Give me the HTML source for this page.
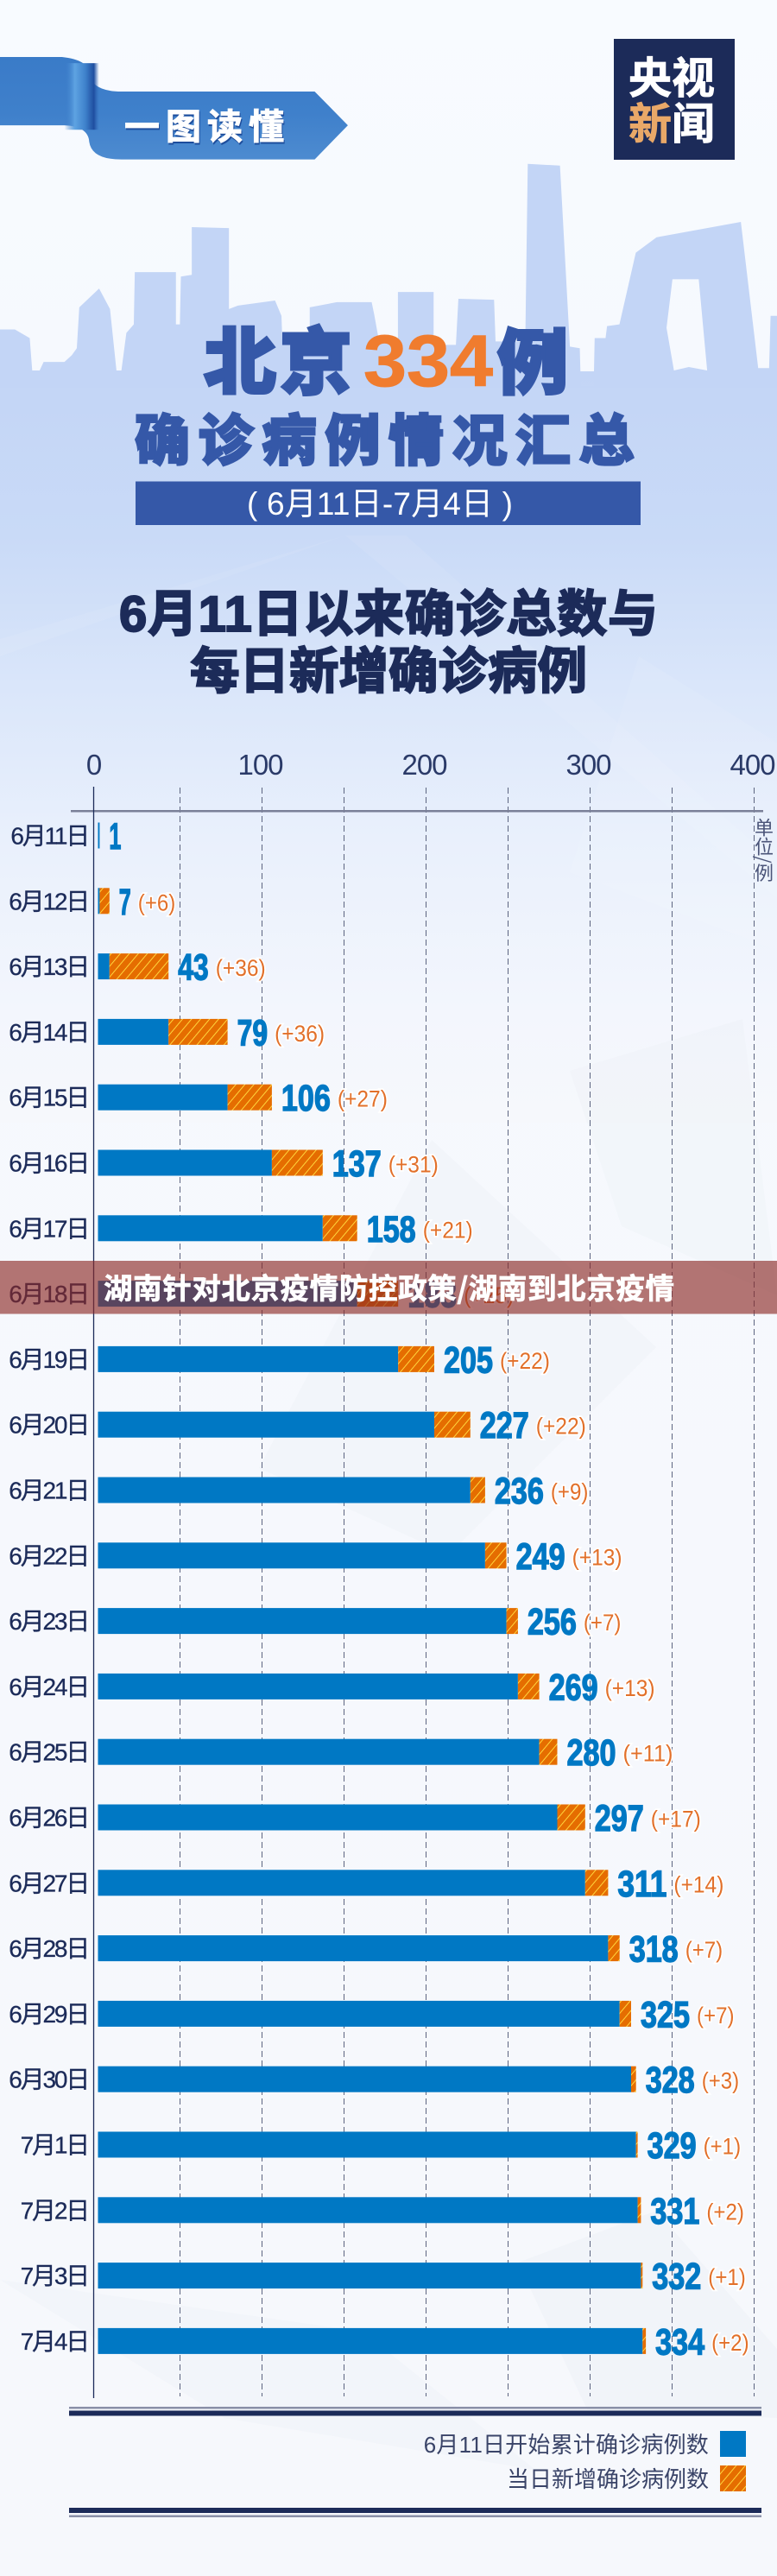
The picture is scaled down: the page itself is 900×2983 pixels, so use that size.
<!DOCTYPE html>
<html lang="zh">
<head>
<meta charset="utf-8">
<title>北京334例确诊病例情况汇总</title>
<style>
html,body{margin:0;padding:0;background:#f6f8fc;}
svg{display:block;}
text{font-family:"Liberation Sans","Noto Sans CJK SC",sans-serif;}
.cjk{font-family:"Noto Sans CJK SC","Liberation Sans",sans-serif;}
</style>
</head>
<body>
<svg id="page" xmlns="http://www.w3.org/2000/svg" width="900" height="2983" viewBox="0 0 900 2983">
<defs>
<linearGradient id="bgGrad" x1="0" y1="0" x2="0" y2="1">
<stop offset="0" stop-color="#f8fbff"/><stop offset="0.14" stop-color="#f6f9fe"/><stop offset="1" stop-color="#f6f8fc"/>
</linearGradient>
<linearGradient id="hazeGrad" gradientUnits="userSpaceOnUse" x1="0" y1="430" x2="0" y2="1300">
<stop offset="0" stop-color="#c3d5f6"/><stop offset="0.22" stop-color="#c9daf7"/><stop offset="0.42" stop-color="#dae6fa"/><stop offset="0.62" stop-color="#e9f0fc"/><stop offset="0.85" stop-color="#f3f6fd"/><stop offset="1" stop-color="#f6f8fc"/>
</linearGradient>
<linearGradient id="skyGrad" gradientUnits="userSpaceOnUse" x1="0" y1="190" x2="0" y2="445">
<stop offset="0" stop-color="#b3c9f1"/><stop offset="1" stop-color="#c3d5f6"/>
</linearGradient>
<linearGradient id="ribbonGrad" x1="0" y1="0" x2="0" y2="1">
<stop offset="0" stop-color="#3a7bc8"/><stop offset="0.55" stop-color="#3f80cb"/><stop offset="1" stop-color="#4d8bd0"/>
</linearGradient>
<linearGradient id="foldGrad" x1="0" y1="0" x2="1" y2="0">
<stop offset="0" stop-color="#3a7cc8" stop-opacity="0"/><stop offset="0.3" stop-color="#5ea3e2"/><stop offset="0.6" stop-color="#3f82cc"/><stop offset="0.85" stop-color="#1f4ea0"/><stop offset="1" stop-color="#2f66b4" stop-opacity="0"/>
</linearGradient>
<pattern id="hatch" width="8" height="8" patternUnits="userSpaceOnUse" patternTransform="rotate(40)">
<rect width="8" height="8" fill="#e56d00"/>
<rect width="1" height="8" x="0" fill="#ffd53d"/>
</pattern>
</defs>

<rect width="900" height="2983" fill="url(#bgGrad)"/>
<rect x="0" y="430" width="900" height="870" fill="url(#hazeGrad)"/>

<g>
<polygon points="0,760 400,620 900,1040 900,1000 470,620 400,620 0,740" fill="#ffffff" opacity="0.08"/>
<polygon points="660,1010 740,760 900,860 900,1100" fill="#ffffff" opacity="0.08"/>
<polygon points="300,1700 500,1320 760,1560 520,1800" fill="#e8ebf2" opacity="0.25"/>
<polygon points="660,1240 860,1180 900,1500 720,1420" fill="#e8ebf2" opacity="0.2"/>
<polygon points="0,2640 420,2700 620,2860 260,2800" fill="#e8ebf2" opacity="0.25"/>
<polygon points="600,2620 760,2560 900,2720 900,2800 680,2790" fill="#e4e8f0" opacity="0.25"/>
</g>

<g transform="scale(0.5740,0.3954)">
<path fill="url(#skyGrad)" fill-rule="evenodd" d="M0,1135 L0,965 L30,965 L60,990 L65,1085 L80,1085 L88,1060 L130,1060 L145,1040 L155,1020 L160,900 L200,845 L222,905 L235,1085 L245,1085 L255,975 L270,950 L272,797 L355,797 L355,950 L363,950 L365,810 L387,805 L387,665 L462,668 L462,905 L480,895 L555,880 L568,925 L570,1010 L625,1010 L625,900 L680,885 L750,885 L755,920 L765,1000 L803,1000 L803,855 L875,855 L875,1010 L920,1010 L925,875 L997,878 L1000,1000 L1060,1000 L1065,480 L1130,485 L1150,1015 L1170,1020 L1172,1130 L1198,1130 L1200,990 L1222,990 L1225,955 L1250,950 L1283,740 L1325,695 L1495,650 L1530,1078 L1552,1078 L1555,925 L1568,925 L1568,1135 Z M1357,818 L1410,818 L1427,1085 L1390,1075 L1360,1085 L1345,960 Z"/>
</g>

<g>
<g transform="scale(0.5740,0.3954)">
<path fill="url(#ribbonGrad)" d="M0,167 L125,167 Q178,175 180,215 Q185,268 245,268 L635,268 L702,367 L635,467 L245,467 Q185,467 180,415 Q178,370 130,367 L0,367 Z"/>
<rect x="130" y="185" width="70" height="195" fill="url(#foldGrad)"/>
</g>
<text class="cjk" x="144" y="161" font-size="41" font-weight="700" fill="#ffffff" stroke="#ffffff" stroke-width="1" letter-spacing="7" style="filter:drop-shadow(1px 2px 0 #1d4d9c)">一图读懂</text>
</g>

<g>
<rect x="711" y="45" width="140" height="140" fill="#1c2b59"/>
<text class="cjk" x="728" y="108" font-size="50" font-weight="700" fill="#ffffff" stroke="#ffffff" stroke-width="0.8">央视</text>
<text class="cjk" x="728" y="161" font-size="50" font-weight="700" fill="#e9a868" stroke="#e9a868" stroke-width="0.8">新</text>
<text class="cjk" x="778" y="161" font-size="50" font-weight="700" fill="#ffffff" stroke="#ffffff" stroke-width="0.8">闻</text>
</g>

<g>
<text class="cjk" x="236" y="449" font-size="84" font-weight="900" fill="#3558a8" stroke="#3558a8" stroke-width="3" letter-spacing="4">北京</text>
<text x="421" y="447" font-size="84" font-weight="700" fill="#f07c2e" stroke="#f07c2e" stroke-width="1" textLength="150" lengthAdjust="spacingAndGlyphs">334</text>
<text class="cjk" x="576" y="449" font-size="82" font-weight="900" fill="#3558a8" stroke="#3558a8" stroke-width="3">例</text>
<text class="cjk" x="156" y="533" font-size="64" font-weight="900" fill="#3558a8" stroke="#3558a8" stroke-width="2.2" letter-spacing="9.5">确诊病例情况汇总</text>
<rect x="157" y="557.5" width="585" height="50.5" fill="#3558a8"/>
<text x="286" y="596" font-size="37" fill="#ffffff" textLength="308" lengthAdjust="spacing">( 6月11日-7月4日 )</text>
</g>

<g>
<text x="138" y="731" font-size="58" font-weight="700" fill="#1c2b59" stroke="#1c2b59" stroke-width="2" textLength="624" lengthAdjust="spacing">6月11日以来确诊总数与</text>
<text x="450" y="797" font-size="57.5" font-weight="700" fill="#1c2b59" stroke="#1c2b59" stroke-width="2" text-anchor="middle">每日新增确诊病例</text>
</g>

<g id="chart"></g>

<text class="cjk" x="885" y="947" font-size="22" fill="#4a5478" style="writing-mode:vertical-rl">单位/例</text>

<g>
<rect x="80" y="2787" width="802" height="2.5" fill="#8a90a8"/>
<rect x="80" y="2791.5" width="802" height="6" fill="#1c2b59"/>
<text x="821" y="2840" font-size="26" fill="#3a4468" text-anchor="end" letter-spacing="0.2">6月11日开始累计确诊病例数</text>
<rect x="834" y="2815" width="30" height="30" fill="#0078c4"/>
<text x="821" y="2880" font-size="26" fill="#3a4468" text-anchor="end">当日新增确诊病例数</text>
<rect x="834" y="2855" width="30" height="30" fill="url(#hatch)"/>
<rect x="80" y="2904" width="802" height="6" fill="#1c2b59"/>
<rect x="80" y="2912.5" width="802" height="2.5" fill="#8a90a8"/>
</g>

<g>
<rect x="0" y="1460" width="900" height="61.5" fill="rgb(140,40,37)" fill-opacity="0.64"/>
<text class="cjk" x="120" y="1504" font-size="33.5" font-weight="700" fill="#ffffff" stroke="#ffffff" stroke-width="0.7" textLength="661" lengthAdjust="spacing">湖南针对北京疫情防控政策/湖南到北京疫情</text>
</g>
</svg>

<script>
const categories = ["6月11日","6月12日","6月13日","6月14日","6月15日","6月16日","6月17日","6月18日","6月19日","6月20日","6月21日","6月22日","6月23日","6月24日","6月25日","6月26日","6月27日","6月28日","6月29日","6月30日","7月1日","7月2日","7月3日","7月4日"];
const totals = [1,7,43,79,106,137,158,183,205,227,236,249,256,269,280,297,311,318,325,328,329,331,332,334];
const dailyNew = [0,6,36,36,27,31,21,25,22,22,9,13,7,13,11,17,14,7,7,3,1,2,1,2];
const tickLabels = [0,100,200,300,400];
const gridValues = [50,100,150,200,250,300,350,400];

const NS = "http://www.w3.org/2000/svg";
const chart = document.getElementById("chart");
const xScale = v => 113.5 + v * 1.9;
const rowTop = i => 952.5 + i * 75.8;
const BAR_H = 30;

function make(tag, attrs, text) {
  const el = document.createElementNS(NS, tag);
  for (const k in attrs) el.setAttribute(k, attrs[k]);
  if (text !== undefined) el.textContent = text;
  chart.appendChild(el);
  return el;
}

gridValues.forEach(v => {
  const el = make("line", {x1:xScale(v), x2:xScale(v), y1:912, y2:2775, stroke:"#5c6480", "stroke-width":1, "stroke-dasharray":"7 4"});
  
  
});

tickLabels.forEach(v => {
  const el = make("text", {x:xScale(v) - (v === 0 ? 5 : 2), y:897, "font-size":33, fill:"#2a3a68", "text-anchor":"middle", "letter-spacing":-1}, String(v));
  
  
});

const axisTop = make("rect", {x:82, y:938, width:802, height:2.5, fill:"#7a8098"});



const axisLeft = make("line", {x1:108.5, x2:108.5, y1:911, y2:2777, stroke:"#1c2b59", "stroke-width":1.3});



categories.forEach((cat, i) => {
  const top = rowTop(i);
  const total = totals[i];
  const inc = dailyNew[i];
  const base = total - inc;

  const label = make("text", {x:102, y:top + 25, "font-size":28, fill:"#1c2b59", stroke:"#1c2b59", "stroke-width":0.3, "text-anchor":"end", "letter-spacing":-2.2}, cat);
  
  

  const blue = make("rect", {x:xScale(0), y:top, width:Math.max(xScale(base) - xScale(0), 0), height:BAR_H, fill:"#0078c4"});
  
  

  if (inc > 0) {
    const hatch = make("rect", {x:xScale(base), y:top, width:xScale(total) - xScale(base), height:BAR_H, fill:"url(#hatch)"});
    
    
  }

  const valueText = String(total);
  const valueW = valueText.length * 21.5 - 7.5;
  const valueX = xScale(total) + 11;
  const value = make("text", {x:valueX, y:top + 30.5, "font-size":43, "font-weight":700, fill:"#0078c4", stroke:"#0078c4", "stroke-width":1.4, textLength:valueW, lengthAdjust:"spacingAndGlyphs"}, valueText);
  
  

  if (inc > 0) {
    const deltaText = "(+" + inc + ")";
    const delta = make("text", {x:valueX + valueW + 8, y:top + 26, "font-size":27, fill:"#e2702a", stroke:"#ffffff", "stroke-width":3.5, "paint-order":"stroke", textLength:deltaText.length * 14.5 - 14.5, lengthAdjust:"spacingAndGlyphs"}, deltaText);
    
    
  }
});
</script>
</body>
</html>
